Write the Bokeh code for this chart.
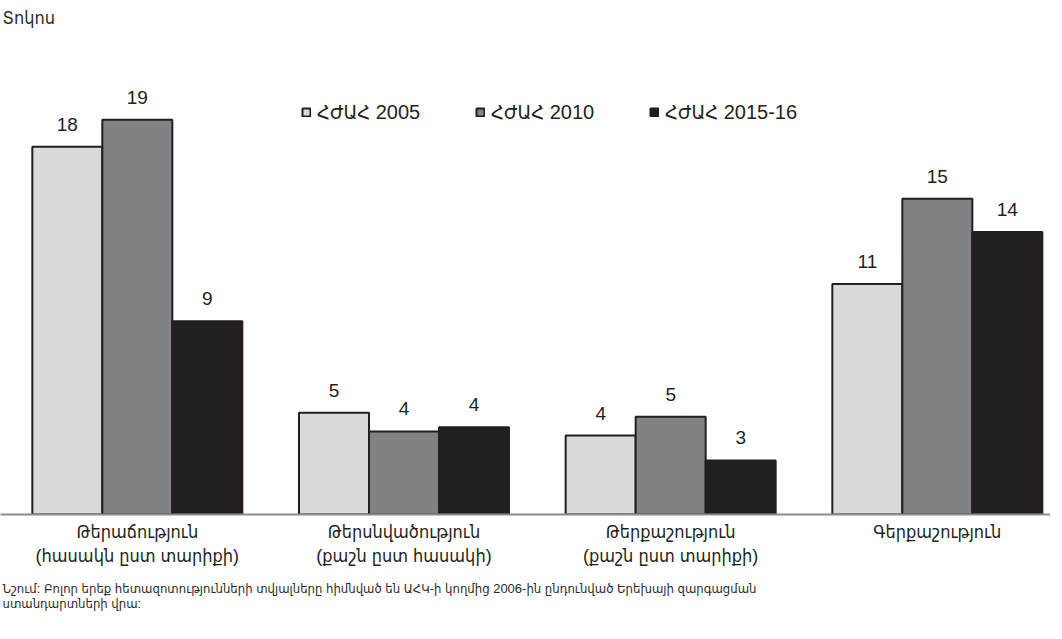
from bokeh.plotting import figure
from bokeh.models import (ColumnDataSource, Range1d, FixedTicker, Legend, LegendItem, Title)
from bokeh.embed import file_html
from bokeh.resources import INLINE
from bokeh.core.properties import value

categories = ["Թերաճություն\n(հասակն ըստ տարիքի)",
              "Թերսնվածություն\n(քաշն ըստ հասակի)",
              "Թերքաշություն\n(քաշն ըստ տարիքի)",
              "Գերքաշություն"]
series_names = ["ՀԺԱՀ 2005", "ՀԺԱՀ 2010", "ՀԺԱՀ 2015-16"]
dhs_2005 = [17.7, 4.9, 3.8, 11.1]
dhs_2010 = [19.0, 4.0, 4.7, 15.2]
dhs_2015 = [9.3, 4.2, 2.6, 13.6]
labels_2005 = ["18", "5", "4", "11"]
labels_2010 = ["19", "4", "5", "15"]
labels_2015 = ["9", "4", "3", "14"]
colors = ["#d9dadc", "#818285", "#231f20"]

title_text = "Տոկոս"
note_text = ("Նշում: Բոլոր երեք հետազոտությունների տվյալները հիմնված են ԱՀԿ-ի կողմից 2006-ին ընդունված Երեխայի զարգացման\n"
             "ստանդարտների վրա:")

FONT = "Liberation Sans, DejaVu Sans Condensed, sans-serif"

W = 1050
H = 621
bw = 0.2625
offsets = [-bw, 0.0, bw]
centers = [i + 0.5 for i in range(len(categories))]

x0 = 0.0169 - 8 / 266.67
p = figure(width=W, height=H, output_backend="svg", toolbar_location=None,
           x_range=Range1d(x0, x0 + W / 266.67),
           y_range=Range1d(0, 23.2),
           min_border_left=0, min_border_right=0, min_border_top=0, min_border_bottom=0)

p.title.text = title_text
p.title.text_font = FONT
p.title.text_font_size = "18px"
p.title.text_font_style = "normal"
p.title.text_color = "#2b2b2b"
p.title.align = "left"
p.title.offset = 2

renderers = []
for vals, labs, off, col in zip([dhs_2005, dhs_2010, dhs_2015],
                                [labels_2005, labels_2010, labels_2015],
                                offsets, colors):
    xs = [c + off for c in centers]
    src = ColumnDataSource(dict(x=xs, top=vals, lab=labs))
    r = p.vbar(x="x", top="top", bottom=0, width=bw, source=src,
               fill_color=col, line_color="#231f20", line_width=2)
    renderers.append(r)
    p.text(x="x", y="top", text="lab", source=src, text_align="center",
           text_baseline="bottom", y_offset=-16, text_font=value(FONT),
           text_font_size="19px", text_color="#231f20")

legend = Legend(items=[LegendItem(label=n, renderers=[r]) for n, r in zip(series_names, renderers)],
                orientation="horizontal", location=(301, 390),
                glyph_width=10, glyph_height=10, label_standoff=6,
                label_width=144, spacing=14, padding=0, margin=0,
                label_text_font=FONT, label_text_font_size="20px",
                label_text_color="#231f20", background_fill_alpha=0,
                border_line_alpha=0)
p.add_layout(legend, "center")

p.yaxis.visible = False
p.xgrid.visible = False
p.ygrid.visible = False
p.outline_line_color = None

ax = p.xaxis[0]
ax.ticker = FixedTicker(ticks=centers)
ax.major_label_overrides = {c: lab for c, lab in zip(centers, categories)}
ax.major_tick_line_color = None
ax.minor_tick_line_color = None
ax.axis_line_color = "#8c8c8c"
ax.axis_line_width = 2
ax.major_label_standoff = 1
ax.major_label_text_font = FONT
ax.major_label_text_font_size = "18px"
ax.major_label_text_color = "#231f20"

p.add_layout(Title(text=note_text, align="left", text_font=FONT, text_font_size="13px",
                   text_font_style="normal", text_color="#2b2b2b",
                   offset=2, standoff=21), "below")

open("out.html", "w").write(file_html(p, INLINE))
